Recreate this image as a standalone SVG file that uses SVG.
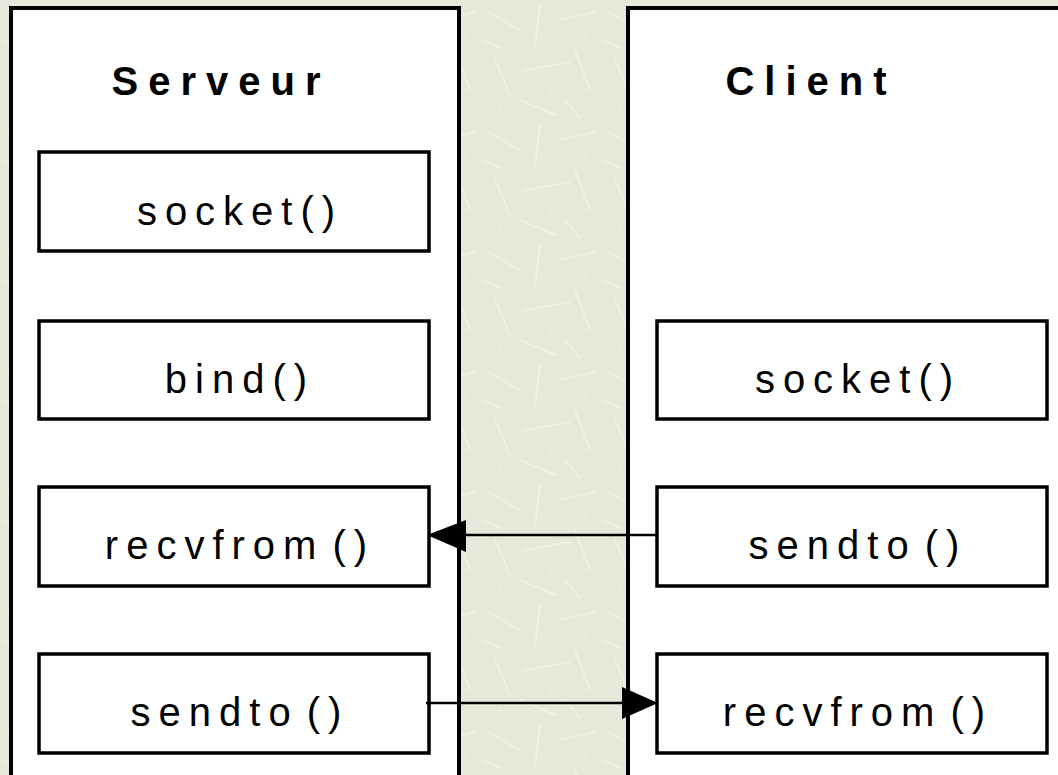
<svg xmlns="http://www.w3.org/2000/svg" width="1058" height="775" viewBox="0 0 1058 775">
<style>
.panel{fill:#fff;stroke:#000;stroke-width:4}
.box{fill:#fff;stroke:#000;stroke-width:3.5}
.lbl{font-family:"Liberation Sans",Arial,sans-serif;font-size:40px;letter-spacing:8px;word-spacing:-11px;text-anchor:middle;fill:#000}
.ttl{font-family:"Liberation Sans",Arial,sans-serif;font-size:40px;font-weight:bold;letter-spacing:10px;text-anchor:middle;fill:#000}
.conn{stroke:#000;stroke-width:2.5;fill:none}
</style>
<defs>
<pattern id="tex" width="120" height="120" patternUnits="userSpaceOnUse">
<rect width="120" height="120" fill="#e8e8da"/>
<g stroke="#f2f2e4" stroke-width="2" stroke-linecap="round">
<line x1="8" y1="12" x2="40" y2="30"/>
<line x1="60" y1="5" x2="55" y2="45"/>
<line x1="80" y1="20" x2="115" y2="12"/>
<line x1="15" y1="60" x2="30" y2="95"/>
<line x1="45" y1="70" x2="90" y2="62"/>
<line x1="95" y1="50" x2="110" y2="90"/>
<line x1="40" y1="100" x2="75" y2="115"/>
<line x1="85" y1="100" x2="100" y2="118"/>
<line x1="2" y1="40" x2="20" y2="48"/>
</g>
<g fill="#f1f1e2">
<circle cx="30" cy="40" r="1.5"/><circle cx="70" cy="90" r="1.5"/><circle cx="105" cy="35" r="1.5"/><circle cx="20" cy="110" r="1.5"/>
</g>
</pattern>
</defs>
<rect width="1058" height="775" fill="url(#tex)"/>
<g id="serveur">
<rect class="panel" x="11" y="8" width="448" height="790"/>
<text class="ttl" x="221" y="95">Serveur</text>
</g>
<g id="client">
<rect class="panel" x="628" y="8" width="460" height="790"/>
<text class="ttl" x="811" y="95">Client</text>
</g>
<g id="s-socket"><rect class="box" x="39" y="152" width="390" height="99"/><text class="lbl" x="240" y="225">socket()</text></g>
<g id="s-bind"><rect class="box" x="39" y="321" width="390" height="98"/><text class="lbl" x="240" y="393">bind()</text></g>
<g id="s-recvfrom"><rect class="box" x="39" y="487" width="390" height="99"/><text class="lbl" x="240" y="559">recvfrom ()</text></g>
<g id="s-sendto"><rect class="box" x="39" y="654" width="390" height="99"/><text class="lbl" x="240" y="726">sendto ()</text></g>
<g id="c-socket"><rect class="box" x="657" y="321" width="390" height="98"/><text class="lbl" x="858" y="393">socket()</text></g>
<g id="c-sendto"><rect class="box" x="657" y="487" width="390" height="99"/><text class="lbl" x="858" y="559">sendto ()</text></g>
<g id="c-recvfrom"><rect class="box" x="657" y="654" width="390" height="99"/><text class="lbl" x="858" y="726">recvfrom ()</text></g>
<g id="connectors">
<line class="conn" x1="657" y1="535" x2="462" y2="535"/>
<polygon points="427,535 466,520 466,552" fill="#000"/>
<line class="conn" x1="426" y1="703" x2="624" y2="703"/>
<polygon points="658,703 622,687 622,719" fill="#000"/>
</g>
</svg>
